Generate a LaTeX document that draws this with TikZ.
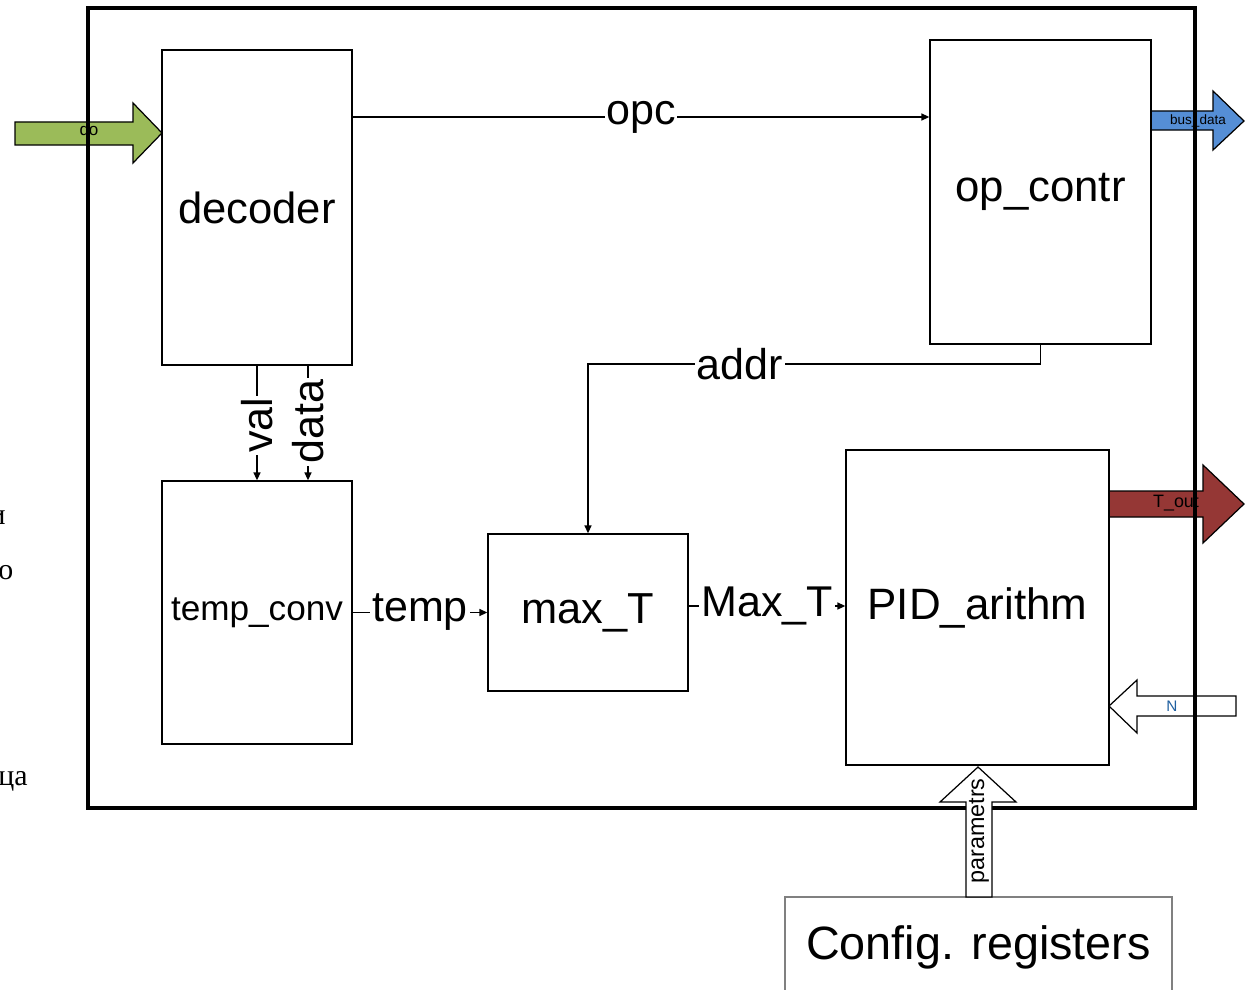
\documentclass[tikz,border=0pt]{standalone}
\usepackage{fontspec}
\setmainfont{Liberation Sans}
\newfontfamily\cyrserif{Liberation Serif}
\usetikzlibrary{arrows.meta}
\definecolor{qogreen}{HTML}{9BBB59}
\definecolor{busblue}{HTML}{558ED5}
\definecolor{toutred}{HTML}{953735}
\definecolor{nblue}{HTML}{1F5FA0}
\tikzset{
  blk/.style={draw=black, line width=0.85pt, fill=white, inner sep=0pt},
  sig/.style={draw=black, line width=0.85pt, -{Triangle[length=4.5pt,width=4pt]}},
  lbl/.style={fill=white, inner sep=1pt, font=\fontsize{24.5}{26}\selectfont},
  rlbl/.style={lbl, rotate=90},
  barrow/.style={draw=black, line width=0.7pt},
  small/.style={inner sep=0pt}
}
\begin{document}
\begin{tikzpicture}[x=0.02cm,y=-0.02cm]
\useasboundingbox (0,0) rectangle (1247,990);

% stray page text on the left
\node[anchor=east, inner sep=0pt, font=\cyrserif\fontsize{17}{20}\selectfont] (s1) at (6,518) {и};
\node[anchor=west, inner sep=0pt, font=\cyrserif\fontsize{17}{20}\selectfont] (s2) at (-2,573) {о};
\node[anchor=east, inner sep=0pt, font=\cyrserif\fontsize{17}{20}\selectfont] (s3) at (28,781) {ца};

% block arrows behind the frame
\draw[barrow, fill=qogreen] (15,122) -- (133,122) -- (133,103) -- (162,133) -- (133,163) -- (133,145) -- (15,145) -- cycle;
\draw[barrow, fill=busblue] (1151,111) -- (1213,111) -- (1213,91) -- (1244,121) -- (1213,150) -- (1213,130) -- (1151,130) -- cycle;
\draw[barrow, fill=toutred] (1109,491) -- (1203,491) -- (1203,465) -- (1244,504) -- (1203,543) -- (1203,517) -- (1109,517) -- cycle;
\draw[barrow, fill=white] (1109,706) -- (1137,680) -- (1137,696) -- (1236,696) -- (1236,716) -- (1137,716) -- (1137,733) -- cycle;

% frame
\draw[line width=2.8pt] (88,8) rectangle (1195,808);

% arrow labels
\node[small, font=\fontsize{9.7}{11}\selectfont] (qo) at (89,133) {qo};
\node[small, font=\fontsize{7.7}{9}\selectfont] (bus) at (1198,121) {bus\_data};
\node[small, font=\fontsize{10.2}{12}\selectfont] (tout) at (1176,503) {T\_out};
\node[small, text=nblue, font=\fontsize{8.7}{10}\selectfont] (n) at (1172,706) {N};

% blocks
\node[blk, minimum width=3.8cm, minimum height=6.3cm, font=\fontsize{24.8}{28}\selectfont] (decoder) at (257,207.5) {decoder};
\node[blk, minimum width=4.42cm, minimum height=6.08cm, font=\fontsize{24.9}{28}\selectfont] (opcontr) at (1040.5,192) {op\_contr};
\node[blk, minimum width=3.8cm, minimum height=5.26cm, font=\fontsize{20}{22}\selectfont] (tempconv) at (257,612.5) {temp\_conv};
\node[blk, minimum width=4cm, minimum height=3.14cm, font=\fontsize{24.7}{28}\selectfont] (maxT) at (588,612.5) {max\_T};
\node[blk, minimum width=5.26cm, minimum height=6.3cm, font=\fontsize{25}{28}\selectfont] (pid) at (977.5,607.5) {PID\_arithm};
\node[blk, draw=gray, minimum width=7.74cm, minimum height=2cm, font=\fontsize{26.6}{30}\selectfont] (config) at (978.5,947) {Config. registers};

% helper coordinates
\coordinate (yopc) at (0,117);
\coordinate (xdata) at (308,0);
\coordinate (yaddr) at (0,364);
\coordinate (ymax) at (0,606);

% connectors
\draw[sig] (decoder.east |- yopc) -- node[lbl] (lopc) {opc} (opcontr.west |- yopc);
\draw[sig] (opcontr.south) |- node[lbl, pos=0.832] (laddr) {addr} (maxT.north |- yaddr) -- (maxT.north);
\draw[sig] (decoder.south) -- node[rlbl, pos=0.52] (lval) {val} (tempconv.north);
\draw[sig] (decoder.south -| xdata) -- node[rlbl, pos=0.49] (ldata) {data} (tempconv.north -| xdata);
\draw[sig] (tempconv.east) -- node[lbl] (ltemp) {temp} (maxT.west);
\draw[sig] (maxT.east |- ymax) -- node[lbl] (lmax) {Max\_T} (pid.west |- ymax);

% parametrs arrow over the frame
\draw[barrow, fill=white] (966,897) -- (966,802) -- (940,802) -- (978,767) -- (1016,802) -- (992,802) -- (992,897) -- cycle;
\node[small, rotate=90, font=\fontsize{13.3}{15}\selectfont] (par) at (979,831) {parametrs};
\end{tikzpicture}
\end{document}
